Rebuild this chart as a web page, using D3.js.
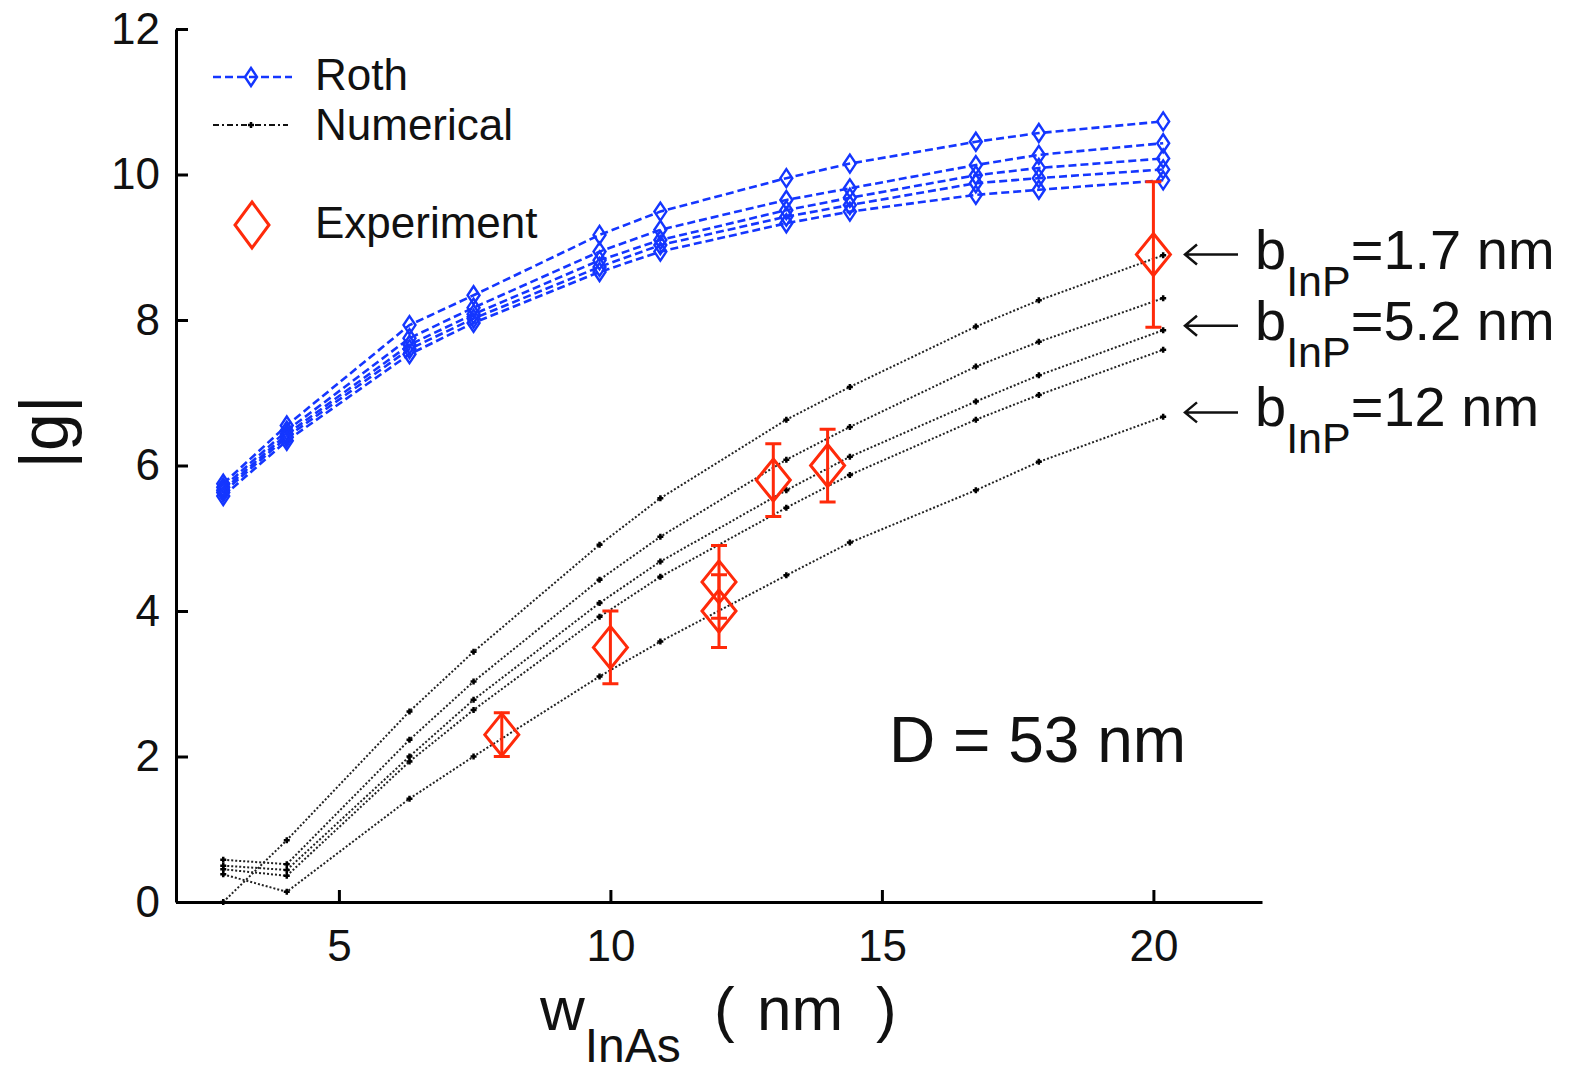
<!DOCTYPE html>
<html>
<head>
<meta charset="utf-8">
<script src="https://cdn.jsdelivr.net/npm/d3@7"></script>
<style>
  body { margin: 0; background: #fff; }
  text { font-family: "Liberation Sans", Arial, sans-serif; fill: #111; }
</style>
</head>
<body>
<svg id="chart" width="1570" height="1076"></svg>
<script>
// well widths where both models were evaluated (nm)
const wInAs = [2.87, 4.04, 6.3, 7.48, 9.8, 10.92, 13.24, 14.41, 16.73, 17.89, 20.18];

// Roth formula, one row per barrier thickness
const rothCurves = [
  [5.75, 6.55, 7.93, 8.34, 9.17, 9.49, 9.95, 10.15, 10.45, 10.57, 10.73],
  [5.70, 6.48, 7.75, 8.17, 8.94, 9.24, 9.65, 9.81, 10.13, 10.27, 10.43],
  [5.66, 6.43, 7.66, 8.08, 8.82, 9.10, 9.51, 9.68, 9.99, 10.09, 10.22],
  [5.63, 6.39, 7.60, 8.02, 8.73, 9.03, 9.42, 9.58, 9.88, 9.95, 10.07],
  [5.58, 6.34, 7.53, 7.96, 8.66, 8.94, 9.33, 9.49, 9.72, 9.79, 9.92]
];

// numerical model, same ordering
const numCurves = [
  [0.00, 0.85, 2.62, 3.44, 4.91, 5.55, 6.63, 7.08, 7.91, 8.27, 8.89],
  [0.58, 0.52, 2.23, 3.03, 4.43, 5.02, 6.08, 6.53, 7.36, 7.70, 8.30],
  [0.50, 0.44, 2.00, 2.78, 4.11, 4.68, 5.66, 6.12, 6.88, 7.24, 7.86],
  [0.45, 0.36, 1.93, 2.64, 3.92, 4.47, 5.42, 5.87, 6.63, 6.97, 7.59],
  [0.38, 0.14, 1.42, 2.00, 3.10, 3.58, 4.49, 4.94, 5.66, 6.05, 6.67]
];

// experiment
const expW = [8, 10, 12, 12, 13, 14, 20];
const expG = [2.3, 3.5, 4.4, 4.0, 5.8, 6.0, 8.9];
const expErr = [0.3, 0.5, 0.5, 0.5, 0.5, 0.5, 1.0];

// barrier labels on the right
const bLabels = ["1.7", "5.2", "12"];
const bLabelG = [8.9, 7.92, 6.73];

const xTicks = [5, 10, 15, 20];
const yTicks = [0, 2, 4, 6, 8, 10, 12];

const svg = d3.select("#chart");
const x = d3.scaleLinear().domain([2, 22]).range([176, 1262]);
const y = d3.scaleLinear().domain([0, 12]).range([902, 29]);

const blue = "#1436ff";
const red = "#ff2a0a";

const diamond = (hw, hh) => `M0,${-hh}L${hw},0L0,${hh}L${-hw},0Z`;
const line = d3.line().x((d) => x(d[0])).y((d) => y(d[1]));

// Roth curves
const roth = svg.append("g");
rothCurves.forEach((vals) => {
  const pts = wInAs.map((w, i) => [w, vals[i]]);
  roth.append("path")
    .attr("d", line(pts))
    .attr("fill", "none")
    .attr("stroke", blue)
    .attr("stroke-width", 2.6)
    .attr("stroke-dasharray", "8,4");
  roth.selectAll(null)
    .data(pts)
    .join("path")
    .attr("transform", (d) => `translate(${x(d[0])},${y(d[1])})`)
    .attr("d", diamond(6, 9))
    .attr("fill", "none")
    .attr("stroke", blue)
    .attr("stroke-width", 2.4);
});

// numerical curves
const num = svg.append("g");
numCurves.forEach((vals) => {
  const pts = wInAs.map((w, i) => [w, vals[i]]);
  num.append("path")
    .attr("d", line(pts))
    .attr("fill", "none")
    .attr("stroke", "#222")
    .attr("stroke-width", 2)
    .attr("stroke-dasharray", "2,2");
  num.selectAll(null)
    .data(pts)
    .join("path")
    .attr("transform", (d) => `translate(${x(d[0])},${y(d[1])})`)
    .attr("d", "M-3,0H3M0,-3V3")
    .attr("stroke", "#000")
    .attr("stroke-width", 2.5);
});

// experiment with error bars
const exp = svg.append("g").attr("stroke", red).attr("fill", "none");
expW.forEach((w, i) => {
  const cx = x(w), lo = y(expG[i] - expErr[i]), hi = y(expG[i] + expErr[i]);
  exp.append("path")
    .attr("d", `M${cx},${lo}V${hi}M${cx - 8},${lo}H${cx + 8}M${cx - 8},${hi}H${cx + 8}`)
    .attr("stroke-width", 3);
  exp.append("path")
    .attr("transform", `translate(${cx},${y(expG[i])})`)
    .attr("d", diamond(17, 21))
    .attr("stroke-width", 3);
});

// axes
const xAxis = svg.append("g")
  .attr("transform", "translate(0,902)")
  .call(d3.axisBottom(x).tickValues(xTicks).tickSizeInner(-12).tickSizeOuter(0).tickPadding(28));
const yAxis = svg.append("g")
  .attr("transform", "translate(176,0)")
  .call(d3.axisLeft(y).tickValues(yTicks).tickSizeInner(-12).tickSizeOuter(0).tickPadding(16));
[xAxis, yAxis].forEach((a) => {
  a.select(".domain").attr("stroke", "#000").attr("stroke-width", 3);
  a.selectAll(".tick line").attr("stroke", "#000").attr("stroke-width", 3);
  a.selectAll(".tick text")
    .style("font-family", '"Liberation Sans", Arial, sans-serif')
    .style("font-size", "44px")
    .attr("fill", "#111");
});

// axis titles
svg.append("text")
  .attr("transform", "translate(68,432) rotate(-90)")
  .attr("text-anchor", "middle")
  .style("font-size", "68px")
  .text("|g|");

const xt = svg.append("text")
  .attr("x", 540)
  .attr("y", 1030)
  .style("font-size", "62px");
xt.append("tspan").text("w");
xt.append("tspan").attr("dy", 32).style("font-size", "48px").text("InAs");
xt.append("tspan").attr("dy", -32).attr("x", 714).text("(");
xt.append("tspan").attr("x", 757).text("nm");
xt.append("tspan").attr("x", 876).text(")");

// legend
const lg = svg.append("g");
lg.append("path").attr("d", "M213,77H292").attr("stroke", blue)
  .attr("stroke-width", 2.6).attr("stroke-dasharray", "8,4");
lg.append("path").attr("transform", "translate(251,77)").attr("d", diamond(6, 9))
  .attr("fill", "none").attr("stroke", blue).attr("stroke-width", 2.4);
lg.append("path").attr("d", "M213,125H288").attr("stroke", "#111")
  .attr("stroke-width", 2.2).attr("stroke-dasharray", "6,3,2,3");
lg.append("path").attr("d", "M248,125H254M251,122V128").attr("stroke", "#000").attr("stroke-width", 2.5);
lg.append("path").attr("transform", "translate(252,225)").attr("d", diamond(17, 23))
  .attr("fill", "none").attr("stroke", red).attr("stroke-width", 3);
const legendText = ["Roth", "Numerical", "Experiment"];
const legendY = [90, 140, 238];
legendText.forEach((t, i) => {
  lg.append("text").attr("x", 315).attr("y", legendY[i]).style("font-size", "44px").text(t);
});

// barrier thickness labels with arrows
bLabels.forEach((b, i) => {
  const yy = y(bLabelG[i]);
  svg.append("path")
    .attr("d", `M1185,${yy}H1238M1197,${yy - 10}L1185,${yy}L1197,${yy + 10}`)
    .attr("fill", "none")
    .attr("stroke", "#111")
    .attr("stroke-width", 2.5);
  const t = svg.append("text").attr("x", 1255).attr("y", yy + 14).style("font-size", "56px");
  t.append("tspan").text("b");
  t.append("tspan").attr("dy", 27).style("font-size", "43px").text("InP");
  t.append("tspan").attr("dy", -27).text(`=${b} nm`);
});

svg.append("text")
  .attr("x", 889)
  .attr("y", 762)
  .style("font-size", "64px")
  .text("D = 53 nm");
</script>
</body>
</html>
